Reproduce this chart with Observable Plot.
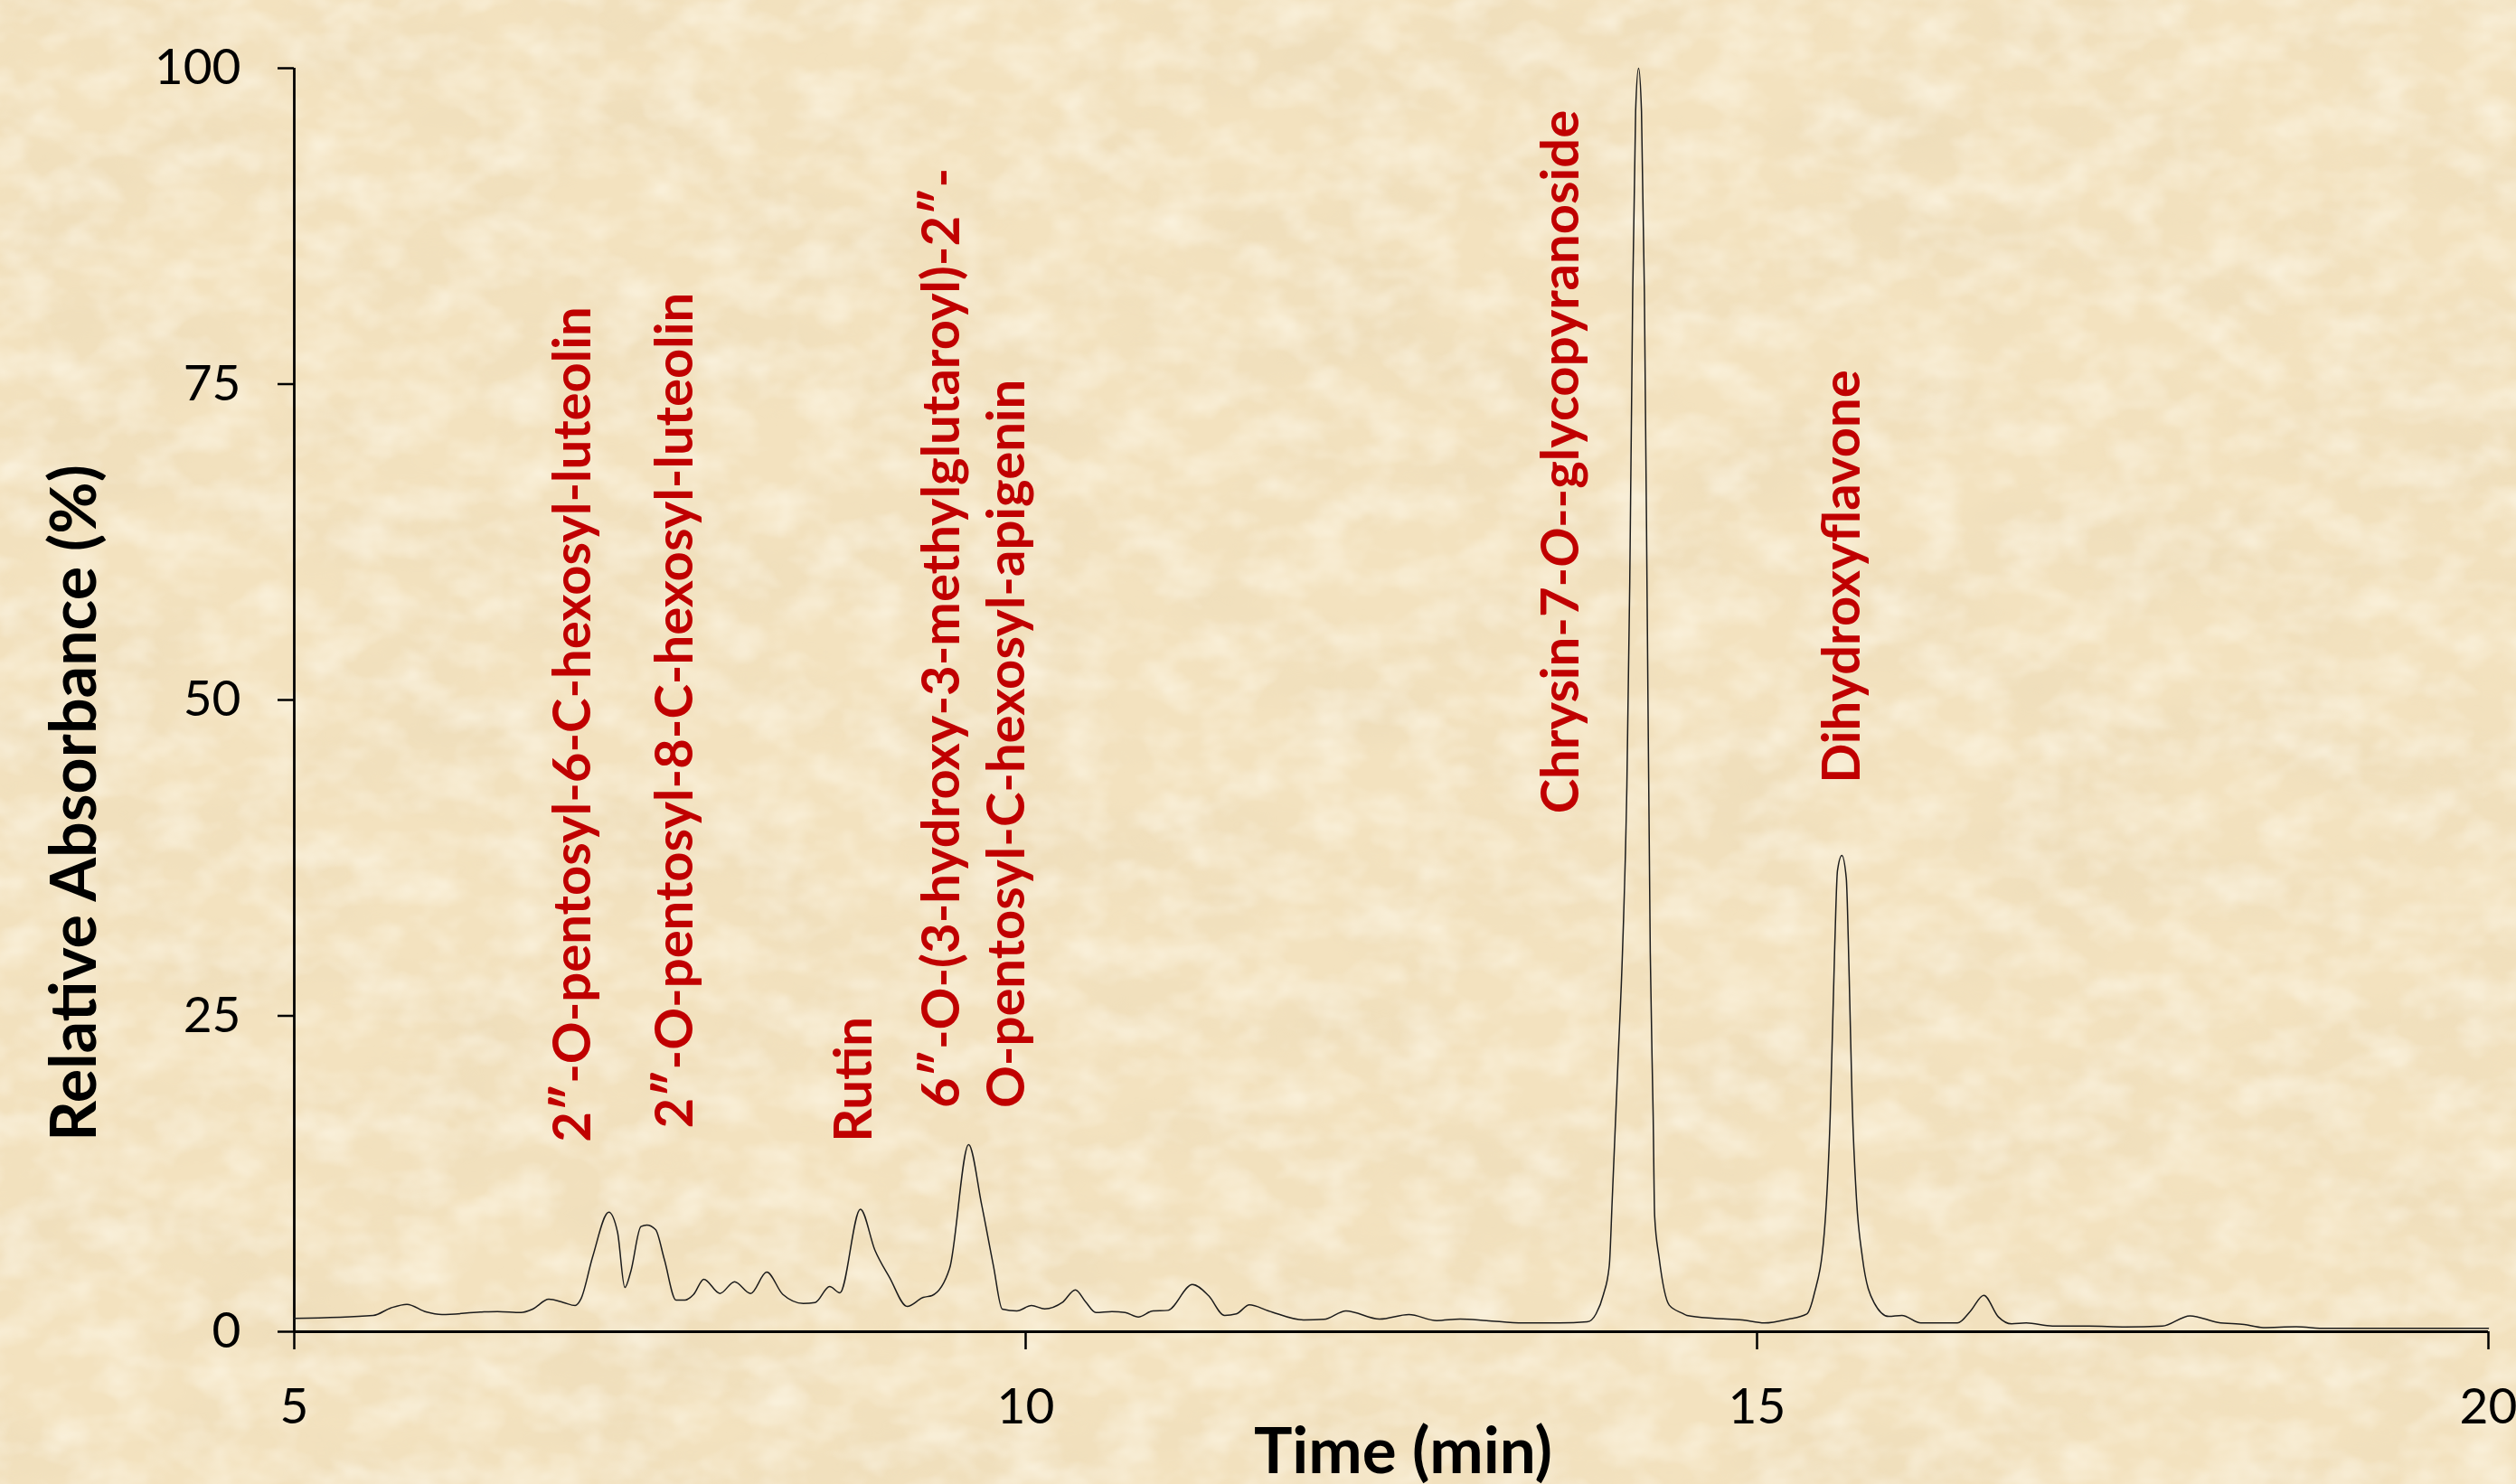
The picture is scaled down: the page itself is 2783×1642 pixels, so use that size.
<!DOCTYPE html>
<html>
<head>
<meta charset="utf-8">
<script src="https://cdn.jsdelivr.net/npm/d3@7"></script>
<script src="https://cdn.jsdelivr.net/npm/@observablehq/plot@0.6"></script>
<style>
  html, body { margin: 0; padding: 0; background: #F3E2BF; overflow: hidden; }
  #chart { width: 2783px; height: 1642px; }
</style>
</head>
<body>
<div id="chart"></div>
<script>
// ---- Data ----
const timeMin = [
  5.00, 5.54, 5.66, 5.77, 5.90, 6.01, 6.27, 6.39, 6.55, 6.63, 6.74, 6.84, 6.92, 6.96,
  7.04, 7.15, 7.21, 7.26, 7.30, 7.37, 7.41, 7.47, 7.53, 7.61, 7.67, 7.73, 7.80, 7.91,
  8.01, 8.12, 8.23, 8.34, 8.48, 8.56, 8.66, 8.73, 8.87, 8.97, 9.07, 9.19, 9.30, 9.36,
  9.48, 9.61, 9.70, 9.78, 9.84, 9.94, 10.04, 10.13, 10.25, 10.34, 10.41, 10.48, 10.59,
  10.68, 10.77, 10.87, 10.97, 11.14, 11.25, 11.36, 11.44, 11.53, 11.66, 11.90, 12.04,
  12.19, 12.42, 12.62, 12.81, 12.97, 13.15, 13.40, 13.65, 13.84, 13.90, 13.95, 13.99,
  14.01, 14.05, 14.08, 14.11, 14.13, 14.15, 14.17, 14.19, 14.21, 14.23, 14.25, 14.27,
  14.29, 14.30, 14.33, 14.40, 14.49, 14.52, 14.71, 14.90, 15.05, 15.21, 15.34, 15.39,
  15.46, 15.50, 15.53, 15.55, 15.58, 15.61, 15.63, 15.65, 15.68, 15.72, 15.80, 15.90,
  15.99, 16.12, 16.37, 16.46, 16.55, 16.65, 16.74, 16.84, 17.02, 17.27, 17.52, 17.77,
  17.96, 18.15, 18.33, 18.46, 18.68, 18.89, 20.00
];
const absorbance = [
  1.05, 1.29, 1.88, 2.17, 1.57, 1.36, 1.55, 1.60, 1.52, 1.79, 2.57, 2.31, 2.07, 2.60,
  5.94, 9.46, 7.87, 3.50, 4.74, 8.32, 8.44, 8.08, 5.72, 2.50, 2.50, 2.95, 4.15, 3.03,
  3.96, 3.03, 4.72, 2.95, 2.24, 2.31, 3.58, 3.08, 9.70, 6.44, 4.29, 2.00, 2.72, 2.86,
  5.00, 14.80, 10.00, 5.20, 1.79, 1.65, 2.07, 1.81, 2.31, 3.31, 2.36, 1.52, 1.60,
  1.52, 1.17, 1.65, 1.69, 3.74, 2.86, 1.29, 1.41, 2.12, 1.65, 0.93, 0.98,
  1.65, 1.00, 1.36, 0.88, 1.00, 0.88, 0.69, 0.69, 0.78, 1.43, 2.95, 5.24,
  10.46, 21.55, 30.0, 43.1, 59.4, 82.2, 96.6, 100.0, 96.6, 82.2, 56.1, 30.0,
  17.0, 9.15, 5.90, 2.10, 1.46, 1.29, 1.05, 0.93, 0.69, 0.98, 1.40, 2.95,
  7.87, 17.0, 30.0, 36.5, 37.7, 35.9, 28.1, 18.3, 10.46, 5.90, 2.30, 1.21,
  1.29, 0.69, 0.69, 1.65, 2.88, 1.17, 0.62, 0.69, 0.45, 0.45, 0.38, 0.45,
  1.26, 0.74, 0.57, 0.33, 0.40, 0.26, 0.26
];

const xTicks = [5, 10, 15, 20];
const yTicks = [0, 25, 50, 75, 100];

const peakNames = [
  "2″-O-pentosyl-6-C-hexosyl-luteolin",
  "2″-O-pentosyl-8-C-hexosyl-luteolin",
  "Rutin",
  "6″-O-(3-hydroxy-3-methylglutaroyl)-2″-\nO-pentosyl-C-hexosyl-apigenin",
  "Chrysin-7-O--glycopyranoside",
  "Dihydroxyflavone"
];
const peakLabelTime = [6.885, 7.583, 8.807, 9.627, 13.641, 15.562];
const peakLabelLevel = [15.0, 16.1, 15.0, 17.7, 41.0, 43.4];

const xTitle = "Time (min)";
const yTitle = "Relative Absorbance (%)";

// ---- Build tables ----
const trace = timeMin.map((t, i) => ({ t, a: absorbance[i] }));
const labels = peakNames.map((name, i) => ({ name, t: peakLabelTime[i], v: peakLabelLevel[i] }));

const FONT = "Lato, 'Open Sans', 'DejaVu Sans', sans-serif";

const chart = Plot.plot({
  width: 2783,
  height: 1642,
  marginLeft: 325,
  marginRight: 31,
  marginTop: 75,
  marginBottom: 169,
  style: { fontFamily: FONT, color: "#000", background: "transparent", overflow: "visible" },
  x: { domain: [xTicks[0], xTicks[xTicks.length - 1]] },
  y: { domain: [yTicks[0], yTicks[yTicks.length - 1]] },
  marks: [
    Plot.axisX({ ticks: xTicks, tickSize: 20, tickPadding: 42, fontSize: 55, strokeWidth: 2.5, label: null, tickFormat: d => String(d) }),
    Plot.axisY({ ticks: yTicks, tickSize: 18, tickPadding: 41, fontSize: 55, strokeWidth: 2.5, label: null, tickFormat: d => String(d) }),
    Plot.ruleX([xTicks[0]], { stroke: "#000", strokeWidth: 2.8 }),
    Plot.ruleY([yTicks[0]], { stroke: "#000", strokeWidth: 2.8 }),
    Plot.line(trace, { x: "t", y: "a", curve: "monotone-x", stroke: "#1c1c1c", strokeWidth: 1.5 }),
    Plot.text(labels, {
      x: "t", y: "v", text: "name", rotate: -90,
      textAnchor: "start", lineAnchor: "middle", lineHeight: 1.23,
      fill: "#C00000", fontWeight: "bold", fontSize: 58, fontFamily: FONT
    }),
    Plot.text([yTitle], {
      frameAnchor: "left", rotate: -90, dx: -242, dy: 114,
      textAnchor: "middle", lineAnchor: "middle",
      fontSize: 70, fontWeight: "bold", fill: "#000", fontFamily: FONT
    }),
    Plot.text([xTitle], {
      frameAnchor: "bottom", dx: 13, dy: 134,
      textAnchor: "middle", lineAnchor: "middle",
      fontSize: 71, fontWeight: "bold", fill: "#000", fontFamily: FONT
    })
  ]
});

// Parchment-like background texture behind everything
const ns = "http://www.w3.org/2000/svg";
const defs = document.createElementNS(ns, "defs");
defs.innerHTML = `
  <filter id="paper" x="0" y="0" width="2783" height="1642" filterUnits="userSpaceOnUse">
    <feTurbulence type="fractalNoise" baseFrequency="0.005 0.009" numOctaves="5" seed="7" result="n"/>
    <feColorMatrix in="n" type="matrix" result="dark"
      values="0 0 0 0 0.85
              0 0 0 0 0.72
              0 0 0 0 0.49
              1.6 0 0 0 -0.62"/>
    <feTurbulence type="fractalNoise" baseFrequency="0.018 0.026" numOctaves="3" seed="21" result="m"/>
    <feColorMatrix in="m" type="matrix" result="light"
      values="0 0 0 0 0.98
              0 0 0 0 0.93
              0 0 0 0 0.80
              0 1.3 0 0 -0.50"/>
    <feMerge>
      <feMergeNode in="dark"/>
      <feMergeNode in="light"/>
    </feMerge>
  </filter>`;
chart.insertBefore(defs, chart.firstChild);
const bg = document.createElementNS(ns, "rect");
bg.setAttribute("x", 0); bg.setAttribute("y", 0);
bg.setAttribute("width", 2783); bg.setAttribute("height", 1642);
bg.setAttribute("filter", "url(#paper)");
bg.setAttribute("fill", "#000");
chart.insertBefore(bg, defs.nextSibling);

// Italic "O" in the chrysin glycoside name
chart.querySelectorAll("text").forEach(el => {
  if (el.textContent === "Chrysin-7-O--glycopyranoside") {
    el.textContent = "";
    const parts = [["Chrysin-7-", null], ["O", "italic"], ["--glycopyranoside", null]];
    for (const [s, st] of parts) {
      const ts = document.createElementNS(ns, "tspan");
      ts.textContent = s;
      if (st) ts.setAttribute("font-style", st);
      el.appendChild(ts);
    }
  }
});

document.getElementById("chart").appendChild(chart);
</script>
</body>
</html>
